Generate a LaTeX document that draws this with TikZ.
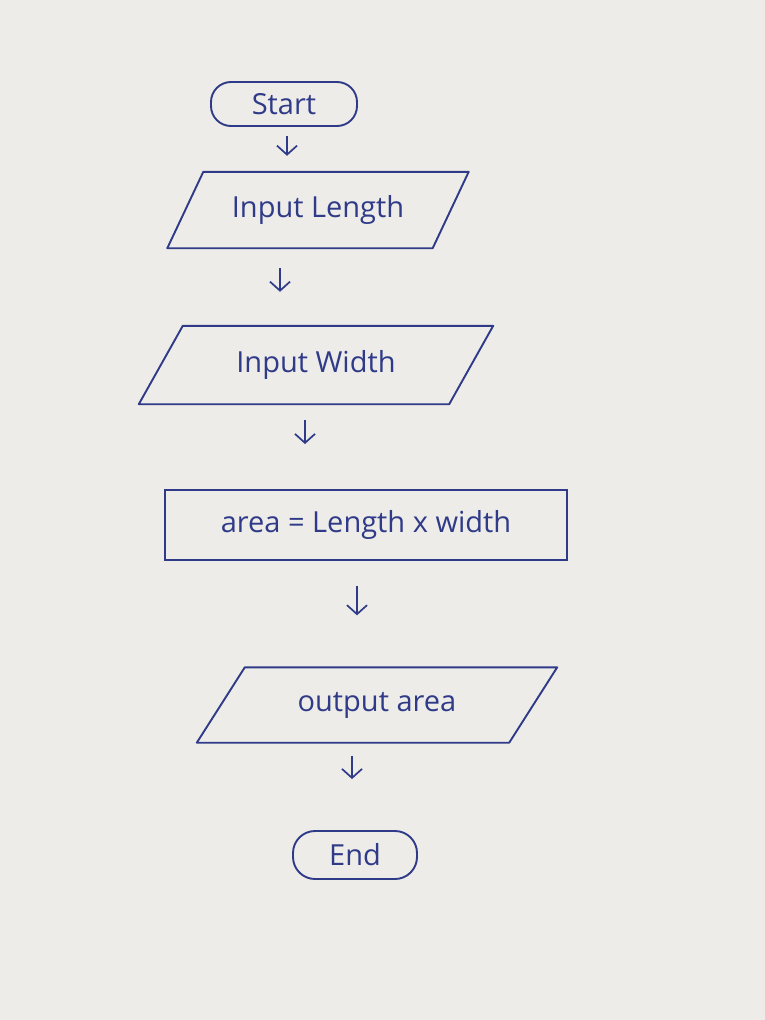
\documentclass[tikz,border=0pt]{standalone}
\usepackage{fontspec}
\setmainfont{Open Sans}
\usetikzlibrary{calc,arrows.meta}
\definecolor{ink}{HTML}{2F3A88}
\definecolor{paper}{HTML}{EDECE8}
\begin{document}
\begin{tikzpicture}[x=1pt,y=-1pt,
 every node/.style={font=\fontsize{29}{34}\selectfont, text=ink},
 term/.style={draw=ink, line width=1.9pt, rounded corners=20pt, minimum height=44pt, inner sep=0pt},
 iotext/.style={draw=none, rectangle, inner sep=0pt},
 iobox/.style={draw=ink, line width=1.9pt, line join=round},
 proc/.style={draw=ink, line width=1.9pt, rectangle, minimum width=402pt, minimum height=70pt, inner sep=0pt},
 arr/.style 2 args={draw=ink, line width=1.7pt, -{Straight Barb[length=9pt,width=20pt]}, shorten <=#1, shorten >=#2}]
\useasboundingbox (0,0) rectangle (765,1020);
\fill[paper] (0,0) rectangle (765,1020);

\node[term, minimum width=146pt] (start) at (284,104) {Start};
\node[iotext, minimum width=265pt, minimum height=76pt] (len) at (318,210) {Input Length};
\node[iotext, minimum width=310pt, minimum height=78pt] (wid) at (316,365) {Input Width};
\node[proc] (area) at (366,525) {area = Length x width};
\node[iotext, minimum width=312pt, minimum height=75pt] (out) at (377,705) {output area};
\node[term, minimum width=124pt, minimum height=48pt, rounded corners=22pt] (end) at (355,855) {End};

% parallelogram outlines around the input/output nodes
\draw[iobox] ([xshift=-18pt]len.south west) -- ([xshift=18pt]len.north west) -- ([xshift=18pt]len.north east) -- ([xshift=-18pt]len.south east) -- cycle;
\draw[iobox] ([xshift=-22pt]wid.south west) -- ([xshift=22pt]wid.north west) -- ([xshift=22pt]wid.north east) -- ([xshift=-22pt]wid.south east) -- cycle;
\draw[iobox] ([xshift=-24pt]out.south west) -- ([xshift=24pt]out.north west) -- ([xshift=24pt]out.north east) -- ([xshift=-24pt]out.south east) -- cycle;

\draw[arr={9pt}{16pt}] ([xshift=3pt]start.south) -- ([xshift=3pt]start.south |- len.north);
\draw[arr={20pt}{34pt}] ([xshift=-38pt]len.south) -- ([xshift=-38pt]len.south |- wid.north);
\draw[arr={16pt}{45pt}] ([xshift=-11pt]wid.south) -- ([xshift=-11pt]wid.south |- area.north);
\draw[arr={25pt}{52pt}] ([xshift=-9pt]area.south) -- ([xshift=-9pt]area.south |- out.north);
\draw[arr={13pt}{51pt}] ([xshift=-25pt]out.south) -- ([xshift=-25pt]out.south |- end.north);
\end{tikzpicture}
\end{document}
